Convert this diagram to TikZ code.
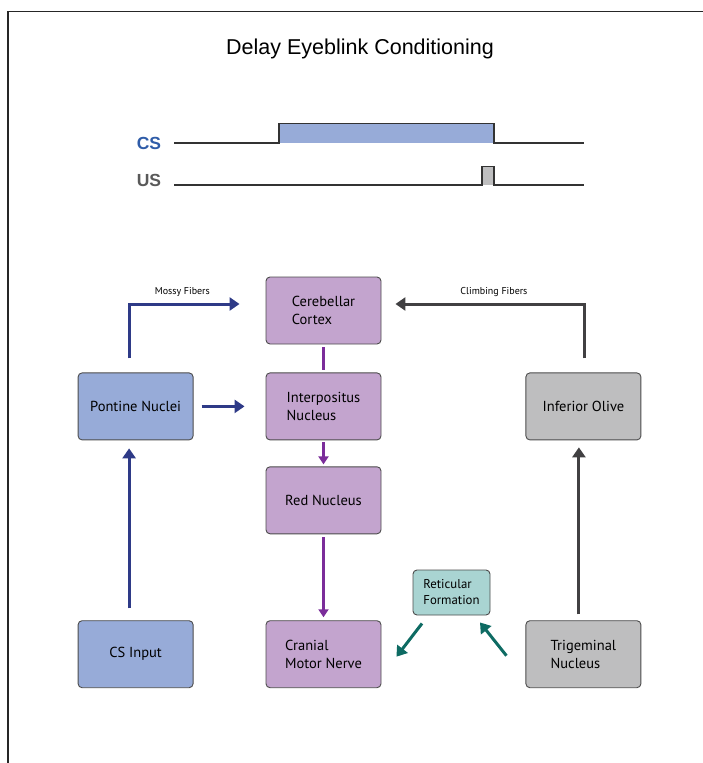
\documentclass[tikz,border=0pt]{standalone}
\usepackage{fontspec}
\setmainfont{Liberation Sans}
\newfontfamily\boxfont{PT Sans}
\usepackage{tikz}
\usetikzlibrary{arrows.meta, positioning}
\definecolor{csfill}{HTML}{97ABD8}
\definecolor{cslabel}{HTML}{2F5CA8}
\definecolor{navyline}{HTML}{2E3A87}
\definecolor{lilac}{HTML}{C3A4CE}
\definecolor{plumline}{HTML}{7B2D9A}
\definecolor{greyfill}{HTML}{BEBEBF}
\definecolor{darkline}{HTML}{414042}
\definecolor{aquafill}{HTML}{A9D4D2}
\definecolor{tealline}{HTML}{0E6B63}

\begin{document}
\begin{tikzpicture}[x=1pt, y=-1pt, >={Triangle[width=13pt,length=10pt]},
    area/.style={draw=black!70, line width=0.9pt, rounded corners=4pt, minimum width=115pt,
      minimum height=67pt, inner sep=0pt, align=left, font={\boxfont\fontsize{14.5}{17.5}\selectfont}},
    bluebox/.style={area, fill=csfill},
    purplebox/.style={area, fill=lilac},
    greybox/.style={area, fill=greyfill},
    tealbox/.style={area, fill=aquafill, minimum width=77pt, minimum height=45pt,
      font={\boxfont\fontsize{12.8}{16}\selectfont}},
    fiber/.style={line width=3pt, ->},
    fiberlabel/.style={font={\boxfont\fontsize{10}{10}\selectfont}},
    trace/.style={line width=1.5pt, black!80},
    siglabel/.style={font={\bfseries\fontsize{17.5}{17.5}\selectfont}}]
  \useasboundingbox (0,0) rectangle (703,763);
  \draw[line width=1.6pt, black!85] (8,763) -- (8,11.5) -- (703,11.5);
  \node[font={\fontsize{21.5}{21.5}\selectfont}] (title) at (360,49) {Delay Eyeblink Conditioning};

  \node[siglabel, text=cslabel] (cs) at (149,143) {CS};
  \node[siglabel, text=black!65] (us) at (149,180) {US};
  \fill[csfill] (279,143) rectangle (494,123.5);
  \draw[trace] (174,143) -- (279,143) |- (494,123.5) -- (494,143) -- (584,143);
  \fill[greyfill] (482,185) rectangle (494,166.5);
  \draw[trace] (174,185) -- (482,185) |- (494,166.5) -- (494,185) -- (584,185);

  \node[purplebox] (cortex) at (323.5,310.5) {Cerebellar\\Cortex};
  \node[purplebox, below=28pt of cortex] (interp) {Interpositus\\Nucleus};
  \node[purplebox, below=26pt of interp] (red) {Red Nucleus};
  \node[purplebox, below=86pt of red] (cranial) {Cranial\\Motor Nerve};
  \node[bluebox, left=72pt of interp] (pontine) {Pontine Nuclei};
  \node[bluebox, left=72pt of cranial] (csin) {CS Input};
  \node[greybox, right=144pt of interp] (olive) {Inferior Olive};
  \node[greybox, right=144pt of cranial] (trig) {Trigeminal\\Nucleus};
  \node[tealbox] (retic) at (451.5,592.5) {Reticular\\Formation};

  \draw[fiber, navyline] ([xshift=-6pt,yshift=14pt]pontine.north) |- ([xshift=-26pt,yshift=6.5pt]cortex.west)
    node[fiberlabel, pos=0.74, above=3pt, text=black] {Mossy Fibers};
  \draw[fiber, navyline] ([xshift=8pt]pontine.east) -- ([xshift=-21pt]interp.west);
  \draw[fiber, navyline] ([xshift=-6.5pt,yshift=12pt]csin.north) -- ([xshift=-6.5pt,yshift=-8pt]pontine.south);

  \draw[line width=3pt, plumline] ([yshift=-3pt]cortex.south) -- ([yshift=2pt]interp.north);
  \draw[line width=3pt, plumline, -{Triangle[width=10pt,length=8pt]}] ([yshift=-2pt]interp.south) -- ([yshift=2pt]red.north);
  \draw[line width=3pt, plumline, -{Triangle[width=10pt,length=8pt]}] ([yshift=-3pt]red.south) -- ([yshift=3pt]cranial.north);

  \draw[fiber, darkline] ([xshift=1.5pt,yshift=14pt]olive.north) |- ([xshift=14pt,yshift=6.5pt]cortex.east)
    node[fiberlabel, pos=0.74, above=3pt, text=black] {Climbing Fibers};
  \draw[fiber, darkline] ([xshift=-4.5pt,yshift=6pt]trig.north) -- ([xshift=-4.5pt,yshift=-7pt]olive.south);

  \draw[fiber, tealline] ([xshift=-29.5pt,yshift=-8pt]retic.south) -- ([xshift=15pt,yshift=-2.5pt]cranial.east);
  \draw[fiber, tealline] ([xshift=-19pt,yshift=-1.5pt]trig.west) -- ([xshift=28.5pt,yshift=-7pt]retic.south);
\end{tikzpicture}
\end{document}
